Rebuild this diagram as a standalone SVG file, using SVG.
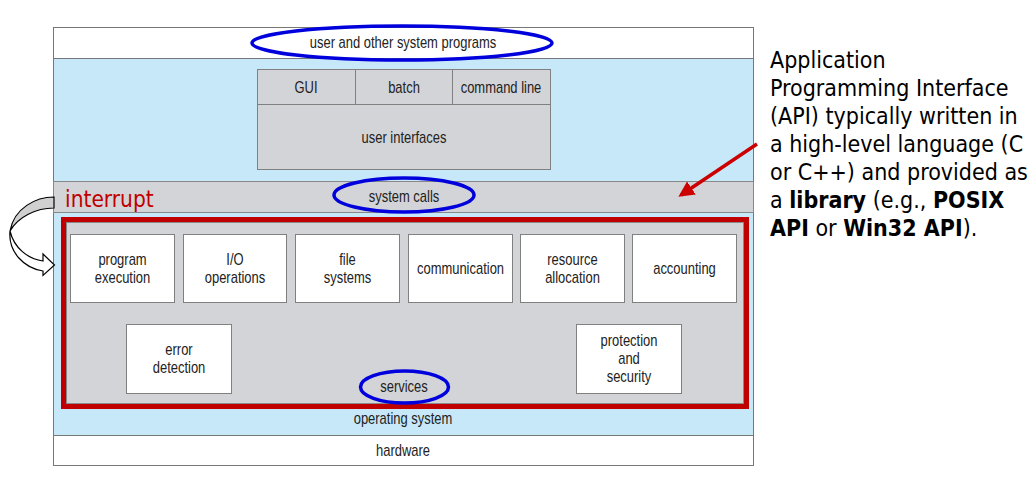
<svg xmlns="http://www.w3.org/2000/svg" width="1036" height="477" viewBox="0 0 1036 477">
<defs>
<style>
.t{font-family:"Liberation Sans",Arial,sans-serif;font-size:16px;fill:#222;text-anchor:middle}
.box{fill:#fff;stroke:#808080;stroke-width:1}
.ell{fill:none;stroke:#0000dd;stroke-width:3.5}
.api{font-family:"DejaVu Sans Condensed","DejaVu Sans",sans-serif;font-stretch:condensed;font-size:23px;fill:#000}
.b{font-weight:bold}
</style>
<marker id="ah" viewBox="0 0 10 10" refX="8" refY="5" markerWidth="4.5" markerHeight="4.5" orient="auto" markerUnits="strokeWidth">
<path d="M0,0 L10,5 L0,10 Z" fill="#cc0000"/>
</marker>
</defs>
<rect width="1036" height="477" fill="#fff"/>

<g id="frame">
<rect x="53.5" y="27.5" width="700" height="438" fill="#c6e8f9" stroke="#777" stroke-width="1"/>
<rect x="53.5" y="27.5" width="700" height="31" fill="#fff" stroke="#777" stroke-width="1"/>
<rect x="53.5" y="181.5" width="700" height="31" fill="#d3d4d7" stroke="#888" stroke-width="1"/>
<rect x="53.5" y="435.5" width="700" height="30" fill="#fff" stroke="#777" stroke-width="1"/>
</g>

<g id="user-programs">
<text class="t" transform="translate(403,48) scale(.81,1)">user and other system programs</text>
<ellipse class="ell" cx="402" cy="43" rx="150" ry="17"/>
</g>

<g id="user-interfaces">
<rect x="257.5" y="69.5" width="293" height="100" fill="#d3d4d7" stroke="#808080"/>
<line x1="257.5" y1="104.5" x2="550.5" y2="104.5" stroke="#808080"/>
<line x1="355.5" y1="69.5" x2="355.5" y2="104.5" stroke="#808080"/>
<line x1="452.5" y1="69.5" x2="452.5" y2="104.5" stroke="#808080"/>
<text class="t" transform="translate(306,93) scale(.81,1)">GUI</text>
<text class="t" transform="translate(404,93) scale(.81,1)">batch</text>
<text class="t" transform="translate(501,93) scale(.81,1)">command line</text>
<text class="t" transform="translate(404,143) scale(.81,1)">user interfaces</text>
</g>

<g id="system-calls">
<text class="t" transform="translate(404,202) scale(.81,1)">system calls</text>
<ellipse class="ell" cx="404" cy="195" rx="70" ry="17"/>
</g>

<g id="interrupt">
<text x="65" y="207" font-family="DejaVu Sans Condensed,DejaVu Sans,sans-serif" font-stretch="condensed" font-size="22.5" fill="#c00000">interrupt</text>
<path d="M54,197 C36,197 14,208 10,231 C18,217 36,208 54,208 Z" fill="#d0d0d0" stroke="#000" stroke-width="1.2"/>
<path d="M10,231 C8,252 24,268 43,271 L43,275.5 L54.5,265 L43,254 L43,261 C28,259 14,248 10,231 Z" fill="#fff" stroke="#000" stroke-width="1.2"/>
</g>

<g id="services">
<rect x="63.5" y="219.5" width="683" height="187" fill="#d3d4d7" stroke="#c00000" stroke-width="5"/>
<rect x="66.5" y="222.5" width="677" height="181" fill="none" stroke="#8a8a8a" stroke-width="1"/>
</g>

<g id="program-execution">
<rect class="box" x="70.5" y="234.5" width="104" height="68"/>
<text class="t" transform="translate(122.5,265) scale(.81,1)">program<tspan x="0" dy="18">execution</tspan></text>
</g>
<g id="io-operations">
<rect class="box" x="183.5" y="234.5" width="103" height="68"/>
<text class="t" transform="translate(235,265) scale(.81,1)">I/O<tspan x="0" dy="18">operations</tspan></text>
</g>
<g id="file-systems">
<rect class="box" x="295.5" y="234.5" width="104" height="68"/>
<text class="t" transform="translate(347.5,265) scale(.81,1)">file<tspan x="0" dy="18">systems</tspan></text>
</g>
<g id="communication">
<rect class="box" x="408.5" y="234.5" width="104" height="68"/>
<text class="t" transform="translate(460.5,274) scale(.81,1)">communication</text>
</g>
<g id="resource-allocation">
<rect class="box" x="520.5" y="234.5" width="104" height="68"/>
<text class="t" transform="translate(572.5,265) scale(.81,1)">resource<tspan x="0" dy="18">allocation</tspan></text>
</g>
<g id="accounting">
<rect class="box" x="632.5" y="234.5" width="104" height="68"/>
<text class="t" transform="translate(684.5,274) scale(.81,1)">accounting</text>
</g>
<g id="error-detection">
<rect class="box" x="126.5" y="324.5" width="105" height="69"/>
<text class="t" transform="translate(179,355) scale(.81,1)">error<tspan x="0" dy="18">detection</tspan></text>
</g>
<g id="protection-security">
<rect class="box" x="576.5" y="324.5" width="105" height="69"/>
<text class="t" transform="translate(629,346) scale(.81,1)">protection<tspan x="0" dy="18">and</tspan><tspan x="0" dy="18">security</tspan></text>
</g>
<g id="services-label">
<text class="t" transform="translate(404,392) scale(.81,1)">services</text>
<ellipse class="ell" cx="404.5" cy="387" rx="44" ry="16"/>
</g>

<g id="operating-system">
<text class="t" transform="translate(403,424) scale(.81,1)">operating system</text>
</g>
<g id="hardware">
<text class="t" transform="translate(403,456) scale(.81,1)">hardware</text>
</g>

<g id="api-note">
<text class="api" x="770" y="68">Application</text>
<text class="api" x="770" y="96">Programming Interface</text>
<text class="api" x="770" y="124">(API) typically written in</text>
<text class="api" x="770" y="152">a high-level language (C</text>
<text class="api" x="770" y="180">or C++) and provided as</text>
<text class="api" x="770" y="208">a <tspan class="b">library</tspan> (e.g., <tspan class="b">POSIX</tspan></text>
<text class="api" x="770" y="236"><tspan class="b">API</tspan> or <tspan class="b">Win32 API</tspan>).</text>
</g>

<g id="connectors">
<line x1="757" y1="144" x2="681" y2="195" stroke="#cc0000" stroke-width="3.5" marker-end="url(#ah)"/>
</g>
</svg>
